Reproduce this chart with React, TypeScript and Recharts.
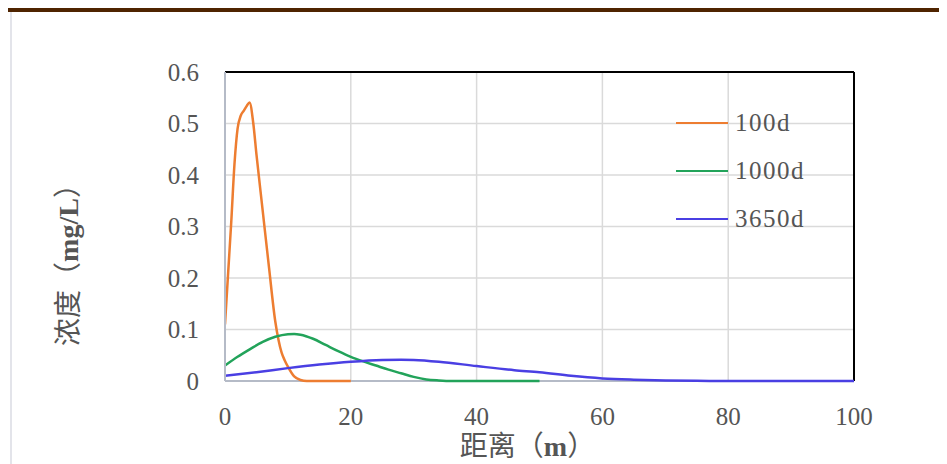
import React from "react";
import {
  LineChart,
  Line,
  XAxis,
  YAxis,
  CartesianGrid,
  Legend,
  ReferenceLine,
} from "recharts";

// distances (m) and concentrations (mg/L)
const X_100D = [0, 0.5, 1, 1.5, 2, 2.5, 3, 3.5, 3.9, 4.5, 5, 6, 7, 8, 8.5, 9, 9.5, 10, 11, 12, 13, 16, 20];
const Y_100D = [0.11, 0.21, 0.31, 0.42, 0.49, 0.515, 0.525, 0.535, 0.541, 0.5, 0.44, 0.33, 0.22, 0.115, 0.08, 0.055, 0.04, 0.028, 0.009, 0.002, 0, 0, 0];

const X_1000D = [0, 2, 4, 6, 8, 10, 11, 12, 14, 16, 18, 20, 22, 24, 26, 28, 30, 32, 34, 36, 40, 45, 50];
const Y_1000D = [0.03, 0.047, 0.062, 0.076, 0.086, 0.091, 0.0915, 0.09, 0.082, 0.07, 0.058, 0.047, 0.038, 0.03, 0.022, 0.015, 0.008, 0.003, 0.001, 0, 0, 0, 0];

const X_3650D = [0, 5, 10, 15, 20, 25, 28, 30, 34, 40, 46, 50, 55, 60, 65, 70, 75, 80, 90, 100];
const Y_3650D = [0.01, 0.017, 0.025, 0.032, 0.0375, 0.041, 0.0415, 0.041, 0.0375, 0.029, 0.021, 0.017, 0.01, 0.005, 0.0025, 0.001, 0.0003, 0, 0, 0];

const X_TICKS = [0, 20, 40, 60, 80, 100];
const Y_TICKS = [0, 0.1, 0.2, 0.3, 0.4, 0.5, 0.6];

const SERIES = [
  { name: "100d", xs: X_100D, ys: Y_100D, color: "#ED7D31" },
  { name: "1000d", xs: X_1000D, ys: Y_1000D, color: "#22A35A" },
  { name: "3650d", xs: X_3650D, ys: Y_3650D, color: "#4A3FE3" },
];

const toRows = (xs: number[], ys: number[]) => xs.map((x, i) => ({ x, y: ys[i] }));

const SERIF = "'Liberation Serif', 'Noto Sans CJK SC', serif";
const TEXT = "#555555";
const AXIS = "#b5bbc7";

// legend drawn in series order (recharts would sort it by name)
function LegendBox() {
  return (
    <div>
      {SERIES.map((s) => (
        <div key={s.name} style={{ display: "flex", alignItems: "center", height: 48 }}>
          <span style={{ width: 52, height: 2.5, background: s.color, display: "inline-block" }} />
          <span
            style={{ marginLeft: 7, fontFamily: SERIF, fontSize: 25, letterSpacing: 1.5, color: TEXT }}
          >
            {s.name}
          </span>
        </div>
      ))}
    </div>
  );
}

export default function App() {
  return (
    <div
      style={{
        position: "relative",
        width: 947,
        height: 464,
        margin: "-8px -8px 0 -8px",
        background: "#fff",
        overflow: "hidden",
      }}
    >
      {/* page header band */}
      <div style={{ position: "absolute", left: 0, top: 0, width: 947, height: 12, background: "#4F2400" }} />
      <div style={{ position: "absolute", left: 0, top: 2, width: 947, height: 1.5, background: "#fff" }} />
      <div style={{ position: "absolute", left: 10, top: 12, width: 1.5, height: 452, background: "#e3e4ea" }} />

      <LineChart
        width={947}
        height={464}
        margin={{ top: 72, right: 93, bottom: 53, left: 165 }}
        style={{ position: "absolute", left: 0, top: 0 }}
      >
        <CartesianGrid stroke="#dadada" strokeWidth={1.5} />
        <XAxis
          dataKey="x"
          type="number"
          domain={[0, 100]}
          ticks={X_TICKS}
          interval={0}
          allowDataOverflow
          height={30}
          tickLine={false}
          tickSize={0}
          tickMargin={26}
          axisLine={false}
          tick={{ fill: TEXT, fontSize: 25, fontFamily: SERIF }}
          label={{
            content: (p: any) => {
              const vb = p.viewBox;
              return (
                <text
                  x={vb.x + vb.width / 2 - 12}
                  y={vb.y + 75}
                  textAnchor="middle"
                  fill={TEXT}
                  fontSize={28}
                  fontFamily={SERIF}
                >
                  距离（<tspan fontWeight="bold">m</tspan>）
                </text>
              );
            },
          }}
        />
        <YAxis
          type="number"
          domain={[0, 0.6]}
          ticks={Y_TICKS}
          interval={0}
          width={60}
          tickLine={false}
          tickSize={0}
          tickMargin={26}
          tickFormatter={(v: number) => (v === 0 ? "0" : v.toFixed(1))}
          axisLine={{ stroke: AXIS, strokeWidth: 2 }}
          tick={{ fill: TEXT, fontSize: 25, fontFamily: SERIF }}
          label={{
            content: (p: any) => {
              const vb = p.viewBox;
              const cx = vb.x - 97;
              const cy = vb.y + 186;
              return (
                <text
                  x={cx}
                  y={cy}
                  transform={`rotate(-90 ${cx} ${cy})`}
                  textAnchor="middle"
                  dominantBaseline="central"
                  fill={TEXT}
                  fontSize={28}
                  fontFamily={SERIF}
                >
                  浓度（<tspan fontWeight="bold">mg/L</tspan>）
                </text>
              );
            },
          }}
        />
        {/* bottom axis line kept under the series so zero runs stay visible */}
        <ReferenceLine y={0} stroke={AXIS} strokeWidth={2} />
        <ReferenceLine y={0.6} stroke="#000" strokeWidth={2} />
        <ReferenceLine x={100} stroke="#000" strokeWidth={2} />
        {SERIES.map((s) => (
          <Line
            key={s.name}
            data={toRows(s.xs, s.ys)}
            dataKey="y"
            name={s.name}
            type="monotone"
            stroke={s.color}
            strokeWidth={2.5}
            dot={false}
            activeDot={false}
            isAnimationActive={false}
          />
        ))}
        <Legend
          layout="vertical"
          align="center"
          verticalAlign="middle"
          content={<LegendBox />}
          wrapperStyle={{ position: "absolute", left: 676, top: 99, width: "auto" }}
        />
      </LineChart>
    </div>
  );
}
